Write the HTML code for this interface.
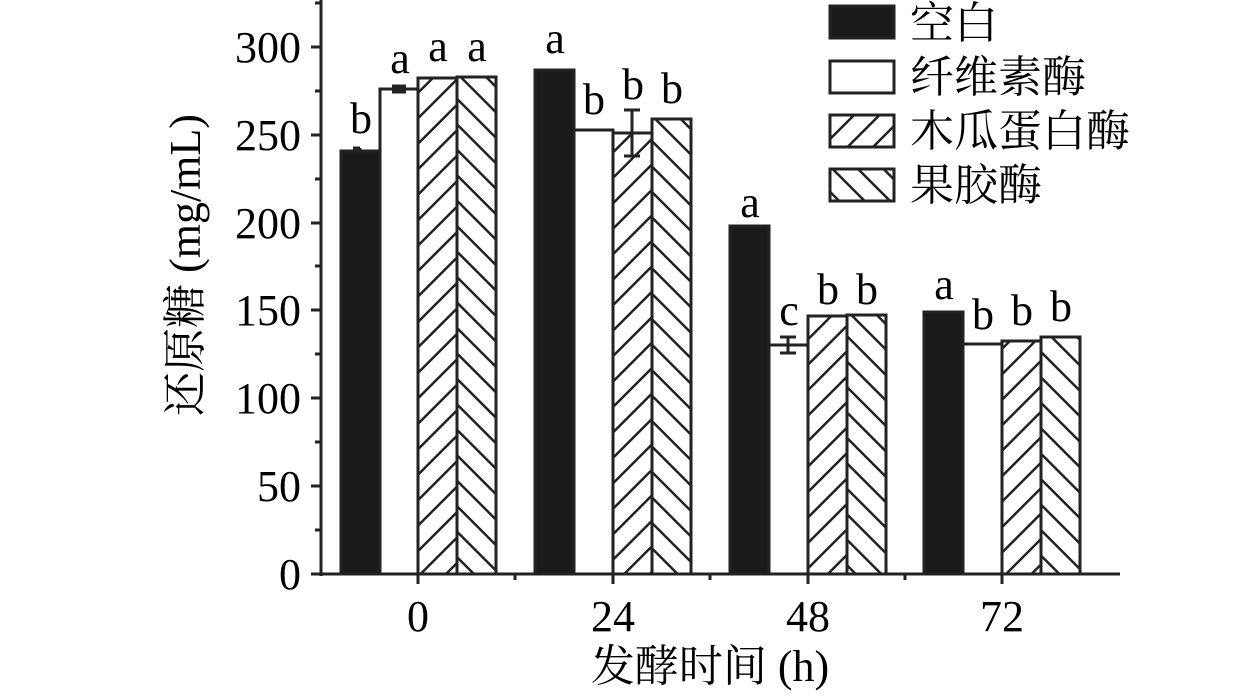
<!DOCTYPE html><html><head><style>body{margin:0;background:#fff}svg{display:block}text{font-family:"Liberation Serif","Noto Serif CJK SC",serif;fill:#000}</style></head><body>
<svg width="1259" height="697" viewBox="0 0 1259 697" xmlns="http://www.w3.org/2000/svg">
<defs>
<pattern id="h1" patternUnits="userSpaceOnUse" width="18" height="18" patternTransform="rotate(45)"><rect width="18" height="18" fill="#fff"/><line x1="0" y1="0" x2="0" y2="18" stroke="#222" stroke-width="5"/></pattern>
<pattern id="h2" patternUnits="userSpaceOnUse" width="18" height="18" patternTransform="rotate(-45)"><rect width="18" height="18" fill="#fff"/><line x1="0" y1="0" x2="0" y2="18" stroke="#222" stroke-width="5"/></pattern>
</defs>
<g stroke="#222" stroke-width="3">
<line x1="321" y1="0" x2="321" y2="576"/><line x1="319" y1="574" x2="1120" y2="574"/>
<line x1="311" y1="574" x2="321" y2="574"/><line x1="311" y1="486" x2="321" y2="486"/><line x1="311" y1="398" x2="321" y2="398"/><line x1="311" y1="310" x2="321" y2="310"/><line x1="311" y1="223" x2="321" y2="223"/><line x1="311" y1="135" x2="321" y2="135"/><line x1="311" y1="47" x2="321" y2="47"/>
<line x1="315" y1="530" x2="321" y2="530"/><line x1="315" y1="442" x2="321" y2="442"/><line x1="315" y1="354" x2="321" y2="354"/><line x1="315" y1="266" x2="321" y2="266"/><line x1="315" y1="179" x2="321" y2="179"/><line x1="315" y1="91" x2="321" y2="91"/><line x1="315" y1="3" x2="321" y2="3"/>
<line x1="418" y1="574" x2="418" y2="584"/><line x1="613" y1="574" x2="613" y2="584"/><line x1="808" y1="574" x2="808" y2="584"/><line x1="1002" y1="574" x2="1002" y2="584"/>
<line x1="515" y1="574" x2="515" y2="580"/><line x1="710" y1="574" x2="710" y2="580"/><line x1="905" y1="574" x2="905" y2="580"/>
</g>
<g stroke="#222" stroke-width="3">
<rect x="341" y="151" width="39" height="423" fill="#1a1a1a"/>
<rect x="380" y="89" width="38" height="485" fill="#fff"/>
<rect x="418" y="78" width="39" height="496" fill="url(#h1)"/>
<rect x="457" y="77" width="39" height="497" fill="url(#h2)"/>
<rect x="535" y="70" width="39" height="504" fill="#1a1a1a"/>
<rect x="574" y="130" width="39" height="444" fill="#fff"/>
<rect x="613" y="133" width="39" height="441" fill="url(#h1)"/>
<rect x="652" y="119" width="39" height="455" fill="url(#h2)"/>
<rect x="730" y="226" width="39" height="348" fill="#1a1a1a"/>
<rect x="769" y="345" width="39" height="229" fill="#fff"/>
<rect x="808" y="316" width="39" height="258" fill="url(#h1)"/>
<rect x="847" y="315" width="39" height="259" fill="url(#h2)"/>
<rect x="924" y="312" width="39" height="262" fill="#1a1a1a"/>
<rect x="963" y="344" width="39" height="230" fill="#fff"/>
<rect x="1002" y="341" width="39" height="233" fill="url(#h1)"/>
<rect x="1041" y="337" width="39" height="237" fill="url(#h2)"/>
<path d="M360 148h-7m7 0v3M399 86h-7m14 0h-7m0 0v6m-7 0h14M632 110h-8m16 0h-8m0 0v46m-8 0h16M788 337h-8m16 0h-8m0 0v16m-8 0h16" fill="none"/>
</g>
<g font-size="44" text-anchor="middle">
<text x="361" y="133">b</text><text x="400" y="73">a</text><text x="438" y="61">a</text><text x="477" y="61">a</text>
<text x="555" y="53">a</text><text x="594" y="114">b</text><text x="633" y="99">b</text><text x="672" y="103">b</text>
<text x="750" y="217">a</text><text x="789" y="325">c</text><text x="828" y="304">b</text><text x="867" y="304">b</text>
<text x="944" y="299">a</text><text x="983" y="329">b</text><text x="1022" y="325">b</text><text x="1061" y="321">b</text>
</g>
<g font-size="44" text-anchor="end">
<text x="301" y="589">0</text><text x="301" y="501">50</text><text x="301" y="413">100</text><text x="301" y="325">150</text><text x="301" y="238">200</text><text x="301" y="150">250</text><text x="301" y="62">300</text>
</g>
<g font-size="44" text-anchor="middle">
<text x="418" y="631">0</text><text x="613" y="631">24</text><text x="808" y="631">48</text><text x="1002" y="631">72</text>
<text x="710" y="681">发酵时间 (h)</text>
<text transform="translate(200,265) rotate(-90)">还原糖 (mg/mL)</text>
</g>
<g stroke="#222" stroke-width="3">
<rect x="830" y="6" width="64" height="32" fill="#1a1a1a"/>
<rect x="830" y="61" width="64" height="32" fill="#fff"/>
<rect x="830" y="115" width="64" height="32" fill="url(#h1)"/>
<rect x="830" y="169" width="64" height="32" fill="url(#h2)"/>
</g>
<g font-size="44">
<text x="910" y="38">空白</text><text x="910" y="92">纤维素酶</text><text x="910" y="146">木瓜蛋白酶</text><text x="910" y="200">果胶酶</text>
</g>
</svg></body></html>
